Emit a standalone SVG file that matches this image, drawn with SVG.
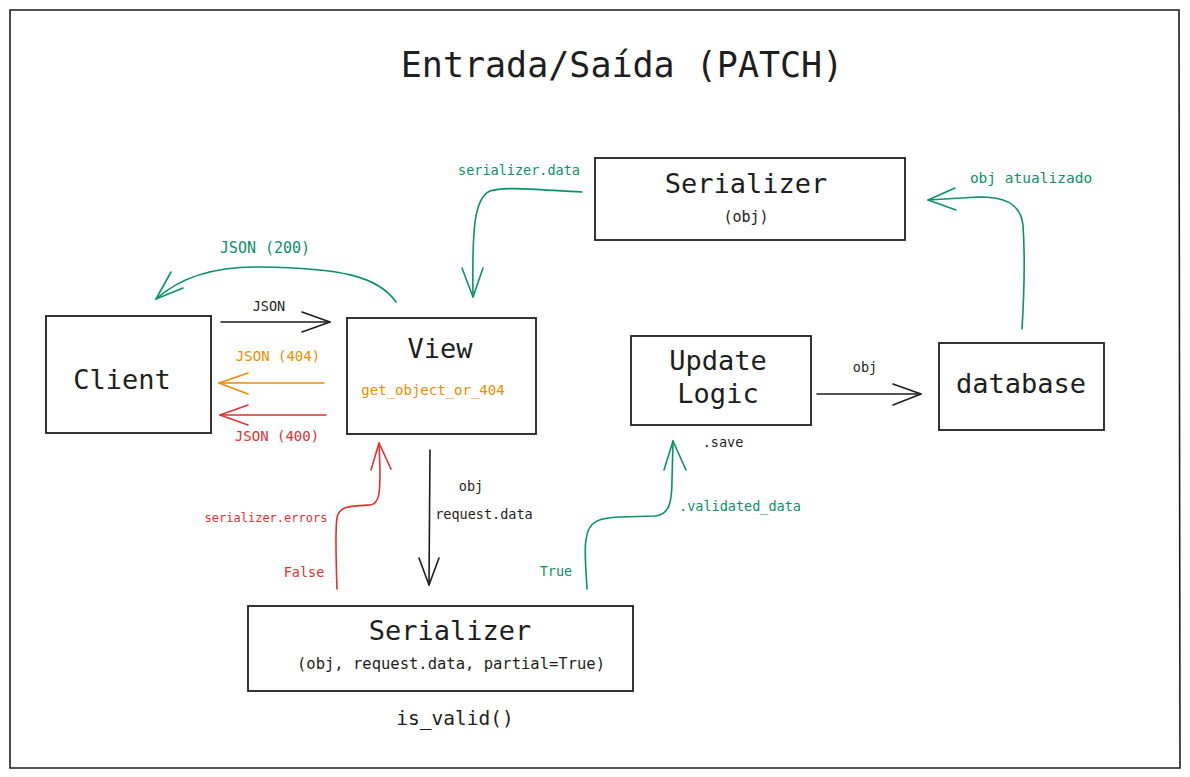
<svg xmlns="http://www.w3.org/2000/svg" width="1190" height="777" viewBox="0 0 1190 777">
<defs>
<style>
text{font-family:"DejaVu Sans Mono","Liberation Mono",monospace;text-anchor:middle;fill:#1e1e1e}
.box{fill:#fff;stroke:#1e1e1e;stroke-width:1.8}
.frame{fill:#fff;stroke:#1e1e1e;stroke-width:1.6}
.c{fill:none;stroke-width:1.6;stroke-linecap:round;stroke-linejoin:round}
.k{stroke:#1e1e1e}
.g{stroke:#099268}
.o{stroke:#f08c00}
.r{stroke:#e03131}
.tg{fill:#099268}
.to{fill:#f08c00}
.tr{fill:#e03131}
.big{font-size:27px}
.sm{font-size:13.5px}
</style>
</defs>
<rect width="1190" height="777" fill="#fff"/>
<path class="frame" d="M10,10 L1179,10 L1180,768 L10,768 Z"/>
<text x="622" y="77" style="font-size:35px">Entrada/Saída (PATCH)</text>

<g id="connectors">
  <!-- JSON (200) -->
  <path class="c g" d="M396,302 C378,276 340,268 260,267 C205,266 175,282 156,299"/>
  <path class="c g" d="M171,272 L156,299 L183,288"/>
  <!-- serializer.data -->
  <path class="c g" d="M582,192 C540,190 505,186 490,191 C474,198 472,230 473,297"/>
  <path class="c g" d="M462,268 L473,297 L483,268"/>
  <!-- obj atualizado -->
  <path class="c g" d="M1022,329 C1025,280 1024,240 1023,225 C1020,202 1003,197 978,197 L928,200"/>
  <path class="c g" d="M955,188 L928,200 L956,210"/>
  <!-- JSON -->
  <path class="c k" d="M221,322 L330,322"/>
  <path class="c k" d="M302,312 L330,322 L302,332"/>
  <!-- JSON (404) -->
  <path class="c o" d="M324,383 L219,383"/>
  <path class="c o" d="M248,373 L219,383 L248,394"/>
  <!-- JSON (400) -->
  <path class="c r" d="M326,415 L220,415"/>
  <path class="c r" d="M248,405 L220,415 L248,425"/>
  <!-- View -> Serializer -->
  <path class="c k" d="M430,450 L429,585"/>
  <path class="c k" d="M419,558 L429,585 L439,558"/>
  <!-- serializer.errors -->
  <path class="c r" d="M337,589 C336,560 335,530 337,518 C339,506 350,506 370,505 C380,504 380,490 380,470 L379,443"/>
  <path class="c r" d="M371,470 L379,443 L391,469"/>
  <!-- validated_data -->
  <path class="c g" d="M587,589 C586,570 584,550 586,540 C588,520 600,518 620,517 L655,516 C670,515 672,500 672,480 L673,441"/>
  <path class="c g" d="M664,470 L673,441 L686,470"/>
  <!-- obj to database -->
  <path class="c k" d="M817,394 L921,394"/>
  <path class="c k" d="M893,384 L921,394 L893,405"/>
</g>

<g id="label-json200"><text class="tg" x="265" y="253" style="font-size:15px">JSON (200)</text></g>
<g id="label-serializer-data"><text class="tg sm" x="519" y="175">serializer.data</text></g>
<g id="label-obj-atualizado"><text class="tg" x="1031" y="183" style="font-size:14.5px">obj atualizado</text></g>
<g id="label-json"><text class="sm" x="269" y="311">JSON</text></g>
<g id="label-json404"><text class="to" x="278" y="361" style="font-size:14px">JSON (404)</text></g>
<g id="label-json400"><text class="tr" x="277" y="441" style="font-size:14px">JSON (400)</text></g>
<g id="label-obj1"><text class="sm" x="865" y="372">obj</text></g>
<g id="label-save"><text class="sm" x="723" y="447">.save</text></g>
<g id="label-obj2"><text class="sm" x="471" y="491">obj</text></g>
<g id="label-request-data"><text class="sm" x="484" y="519">request.data</text></g>
<g id="label-errors"><text class="tr" x="266" y="522" style="font-size:12px">serializer.errors</text></g>
<g id="label-false"><text class="tr sm" x="304" y="577">False</text></g>
<g id="label-true"><text class="tg sm" x="556" y="576">True</text></g>
<g id="label-validated"><text class="tg sm" x="740" y="511">.validated_data</text></g>

<g id="node-client">
  <rect class="box" x="46" y="316" width="165" height="117"/>
  <text class="big" x="122" y="389">Client</text>
</g>
<g id="node-view">
  <rect class="box" x="347" y="318" width="189" height="116"/>
  <text class="big" x="440" y="358">View</text>
  <text class="to" x="433" y="395" style="font-size:14px">get_object_or_404</text>
</g>
<g id="node-serializer-top">
  <rect class="box" x="595" y="158" width="310" height="82"/>
  <text class="big" x="746" y="193">Serializer</text>
  <text x="746" y="222" style="font-size:15px">(obj)</text>
</g>
<g id="node-update-logic">
  <rect class="box" x="631" y="336" width="180" height="89"/>
  <text class="big" x="718" y="370">Update</text>
  <text class="big" x="718" y="403">Logic</text>
</g>
<g id="node-database">
  <rect class="box" x="939" y="343" width="165" height="87"/>
  <text class="big" x="1021" y="393">database</text>
</g>
<g id="node-serializer-bottom">
  <rect class="box" x="248" y="606" width="385" height="85"/>
  <text class="big" x="450" y="640">Serializer</text>
  <text x="451" y="669" style="font-size:15.5px">(obj, request.data, partial=True)</text>
</g>
<g id="label-is-valid"><text x="455" y="725" style="font-size:19.5px">is_valid()</text></g>
</svg>
